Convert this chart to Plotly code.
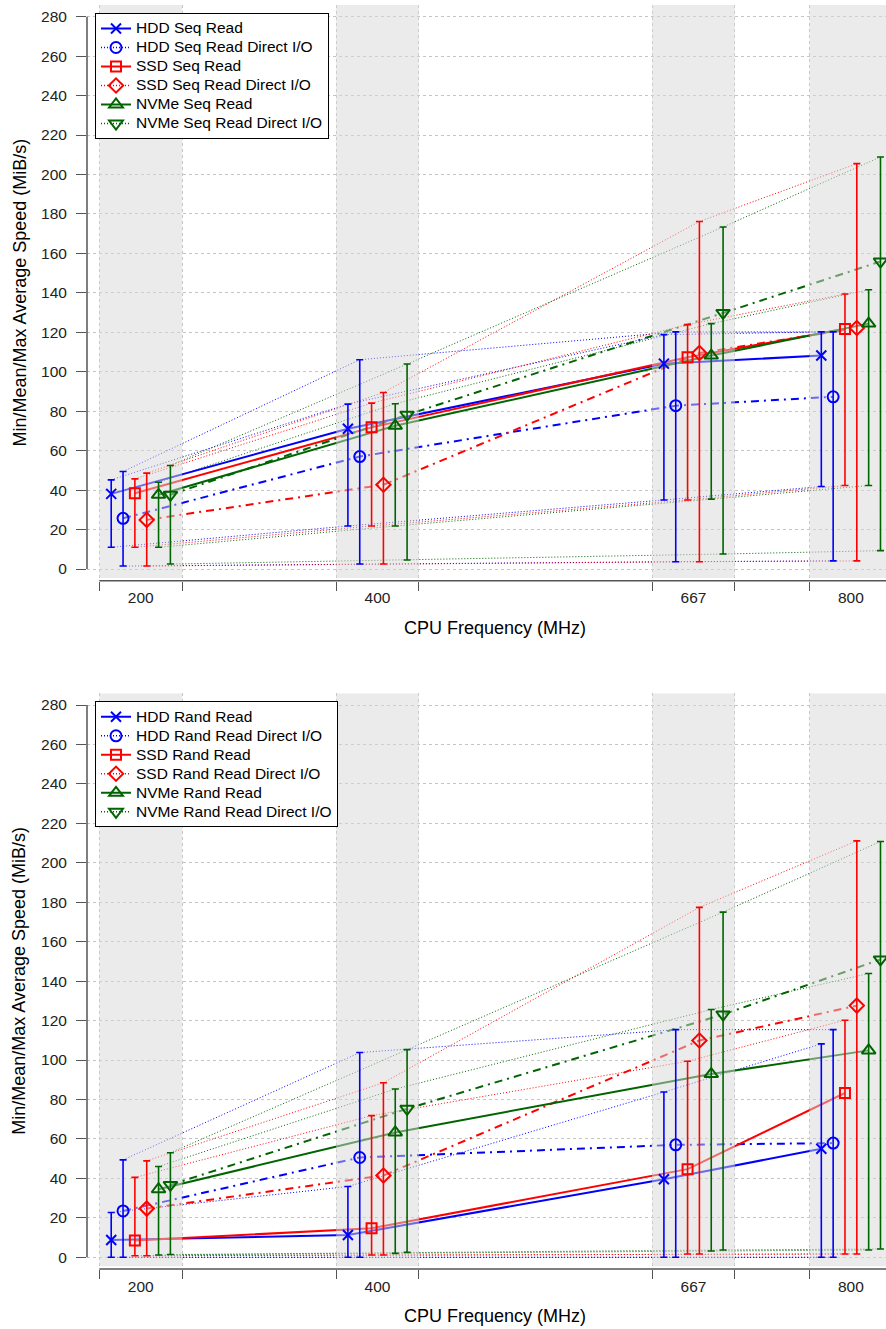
import plotly.graph_objects as go

# ---------------------------------------------------------------- data
freqs = [200, 400, 667, 800]
freq_labels = ["200", "400", "667", "800"]

seq_names = ["HDD Seq Read", "HDD Seq Read Direct I/O",
             "SSD Seq Read", "SSD Seq Read Direct I/O",
             "NVMe Seq Read", "NVMe Seq Read Direct I/O"]
rand_names = ["HDD Rand Read", "HDD Rand Read Direct I/O",
              "SSD Rand Read", "SSD Rand Read Direct I/O",
              "NVMe Rand Read", "NVMe Rand Read Direct I/O"]

# one row per series, one column per CPU frequency (MiB/s)
seq_mean = [
    [38.1, 71.1, 104.1, 108.2],
    [25.7, 57.0, 82.8, 87.3],
    [38.4, 71.8, 107.3, 121.7],
    [24.9, 42.7, 109.5, 122.2],
    [37.6, 72.6, 108.2, 124.4],
    [37.6, 78.2, 129.8, 155.9],
]
seq_min = [
    [11.0, 21.8, 35.0, 41.8],
    [1.5, 2.5, 3.7, 4.1],
    [11.0, 21.8, 35.0, 42.3],
    [1.5, 2.5, 3.7, 4.1],
    [11.0, 21.8, 35.4, 42.3],
    [2.5, 4.6, 7.6, 9.3],
]
seq_max = [
    [45.2, 83.6, 118.8, 120.2],
    [49.4, 106.1, 120.2, 120.2],
    [45.7, 84.1, 123.9, 139.4],
    [48.6, 89.5, 176.2, 205.5],
    [44.0, 83.8, 124.4, 141.6],
    [52.5, 103.9, 173.4, 208.9],
]

rand_mean = [
    [8.8, 11.3, 39.6, 55.0],
    [23.5, 50.6, 57.0, 57.9],
    [8.5, 14.7, 44.7, 83.3],
    [24.7, 41.5, 109.9, 127.6],
    [34.5, 63.3, 92.9, 104.9],
    [36.7, 75.3, 123.1, 151.0],
]
rand_min = [
    [0.0, 0.0, 0.0, 0.0],
    [0.0, 0.0, 0.0, 0.0],
    [0.8, 1.2, 1.7, 1.7],
    [0.8, 1.2, 1.7, 1.7],
    [1.2, 2.0, 3.2, 3.7],
    [1.4, 2.5, 3.7, 4.2],
]
rand_max = [
    [22.7, 35.9, 83.8, 108.2],
    [49.4, 103.8, 115.4, 115.4],
    [40.5, 71.8, 99.4, 120.2],
    [48.9, 88.5, 177.4, 211.1],
    [46.0, 85.3, 125.6, 143.9],
    [53.0, 105.3, 175.0, 210.8],
]

y_ticks = list(range(0, 281, 20))

# ---------------------------------------------------------------- style
colors = ["#0000FF", "#0000FF", "#FF0000", "#FF0000", "#006400", "#006400"]
symbols = ["x-thin-open", "circle-open", "square-open", "diamond-open",
           "triangle-up-open", "triangle-down-open"]
marker_sizes = [10, 11, 10, 11, 12, 12]
direct_io = [False, True, False, True, False, True]
offsets = [-25, -15, -5, 5, 15, 25]          # MHz shift of each series inside a band
BAND_HALF = 35                               # half width of a frequency band (MHz)
DASHDOT = "8px,5px,2px,5px"
DOTTED = "1px,2px"
AXIS_COLOR = "#555555"
FONT = "Liberation Sans, Arial, sans-serif"
LEGEND_TEXT = '<span style="font-size:15.5px">{}</span>'

W, H = 886, 1329
Y_SCALE = (569 - 16.7) / 280                 # px per MiB/s
X_RANGE = [154.54, 829.66]
Y_RANGE = [(569 - 580.7) / Y_SCALE, (569 - 5) / Y_SCALE]
BAND_BOTTOM = (569 - 578) / Y_SCALE
PANEL_SHIFT = 688.3                          # vertical px offset of the second panel


def fx(px):
    return px / W


def fy(px):
    return 1 - px / H


fig = go.Figure()


def add_panel(names, mean, vmin, vmax, xa, ya, legend):
    xs = [[f + off for f in freqs] for off in offsets]

    # thin dotted min / max envelopes
    for i in range(6):
        for vals in (vmin[i], vmax[i]):
            fig.add_trace(go.Scatter(
                x=xs[i], y=vals, mode="lines", xaxis=xa, yaxis=ya,
                line=dict(color=colors[i], width=1, dash=DOTTED),
                showlegend=False, hoverinfo="skip"))

    # mean lines
    for i in range(6):
        fig.add_trace(go.Scatter(
            x=xs[i], y=mean[i], mode="lines", xaxis=xa, yaxis=ya,
            line=dict(color=colors[i], width=2,
                      dash=DASHDOT if direct_io[i] else "solid"),
            showlegend=False, hoverinfo="skip"))

    # translucent frequency bands laid over the connecting lines
    bx, by = [], []
    for f in freqs:
        bx += [f - BAND_HALF, f + BAND_HALF, f + BAND_HALF, f - BAND_HALF, f - BAND_HALF, None]
        by += [BAND_BOTTOM, BAND_BOTTOM, Y_RANGE[1], Y_RANGE[1], BAND_BOTTOM, None]
    fig.add_trace(go.Scatter(
        x=bx, y=by, mode="none", fill="toself", xaxis=xa, yaxis=ya,
        fillcolor="rgba(215,215,215,0.5)", showlegend=False, hoverinfo="skip"))

    # min/max error bars with mean markers
    for i in range(6):
        fig.add_trace(go.Scatter(
            x=xs[i], y=mean[i], mode="markers", xaxis=xa, yaxis=ya,
            marker=dict(symbol=symbols[i], size=marker_sizes[i], color=colors[i],
                        line=dict(color=colors[i], width=2)),
            error_y=dict(type="data", symmetric=False,
                         array=[hi - m for hi, m in zip(vmax[i], mean[i])],
                         arrayminus=[m - lo for lo, m in zip(vmin[i], mean[i])],
                         color=colors[i], thickness=1.6, width=3.5),
            showlegend=False, name=names[i]))

    # legend entries
    for i in range(6):
        fig.add_trace(go.Scatter(
            x=[None], y=[None], mode="lines+markers", xaxis=xa, yaxis=ya,
            name=LEGEND_TEXT.format(names[i]), legend=legend,
            line=dict(color=colors[i], width=2 if not direct_io[i] else 1.5,
                      dash=DOTTED if direct_io[i] else "solid"),
            marker=dict(symbol=symbols[i], size=marker_sizes[i], color=colors[i],
                        line=dict(color=colors[i], width=2))))


add_panel(seq_names, seq_mean, seq_min, seq_max, "x", "y", "legend")
add_panel(rand_names, rand_mean, rand_min, rand_max, "x2", "y2", "legend2")

band_edges = [e for f in freqs for e in (f - BAND_HALF, f + BAND_HALF)]

xaxis_common = dict(
    range=X_RANGE, domain=[fx(87), 1], showline=False, showgrid=False, zeroline=False,
    tickvals=freqs, ticktext=freq_labels, ticks="outside", ticklen=0,
    tickcolor="rgba(0,0,0,0)", ticklabelstandoff=3,
    tickfont=dict(family=FONT, size=15.5, color="#222222"),
    minor=dict(tickvals=band_edges, ticks="outside", ticklen=9, tickwidth=1.2,
               tickcolor=AXIS_COLOR, showgrid=True, gridcolor="#c4c4c4",
               griddash="dot", gridwidth=1),
    fixedrange=True,
)
yaxis_common = dict(
    range=Y_RANGE, showline=False, zeroline=False,
    tickvals=y_ticks, ticks="outside", ticklen=10, tickwidth=1.2, tickcolor=AXIS_COLOR,
    ticklabelstandoff=6,
    tickfont=dict(family=FONT, size=15.5, color="#222222"),
    showgrid=True, gridcolor="#c4c4c4", griddash="dot", gridwidth=1,
    fixedrange=True,
)

shapes = []
annotations = []
for k in range(2):
    dy = k * PANEL_SHIFT
    # y axis line spans the tick range, x axis line starts at the first band edge
    shapes.append(dict(type="line", xref="paper", yref="paper",
                       x0=fx(87), x1=fx(87), y0=fy(569 + dy), y1=fy(16.7 + dy),
                       line=dict(color=AXIS_COLOR, width=1.5)))
    shapes.append(dict(type="line", xref="paper", yref="paper",
                       x0=fx(99.3), x1=1, y0=fy(580.7 + dy), y1=fy(580.7 + dy),
                       line=dict(color=AXIS_COLOR, width=1.5)))
    annotations.append(dict(text="Min/Mean/Max Average Speed (MiB/s)", textangle=-90,
                            xref="paper", yref="paper", x=fx(19.5), y=fy(293 + dy),
                            xanchor="center", yanchor="middle", showarrow=False,
                            font=dict(family=FONT, size=18, color="#000000")))
    annotations.append(dict(text="CPU Frequency (MHz)",
                            xref="paper", yref="paper", x=fx(495.5), y=fy(628 + dy),
                            xanchor="center", yanchor="middle", showarrow=False,
                            font=dict(family=FONT, size=18, color="#000000")))

legend_common = dict(
    xanchor="left", yanchor="top", bgcolor="#FFFFFF",
    bordercolor="#000000", borderwidth=1,
    font=dict(family=FONT, size=12.2, color="#000000"),
    tracegroupgap=0, itemsizing="trace",
)

fig.update_layout(
    width=W, height=H,
    margin=dict(l=0, r=0, t=0, b=0),
    paper_bgcolor="#FFFFFF", plot_bgcolor="#FFFFFF",
    xaxis=dict(**xaxis_common, anchor="y"),
    xaxis2=dict(**xaxis_common, anchor="y2"),
    yaxis=dict(**yaxis_common, domain=[fy(580.7), fy(5)], anchor="x"),
    yaxis2=dict(**yaxis_common, domain=[fy(580.7 + PANEL_SHIFT), fy(5 + PANEL_SHIFT)], anchor="x2"),
    legend=dict(**legend_common, x=fx(95), y=fy(13)),
    legend2=dict(**legend_common, x=fx(95), y=fy(13 + PANEL_SHIFT)),
    shapes=shapes,
    annotations=annotations,
    showlegend=True,
)

fig.write_html("out.html")
